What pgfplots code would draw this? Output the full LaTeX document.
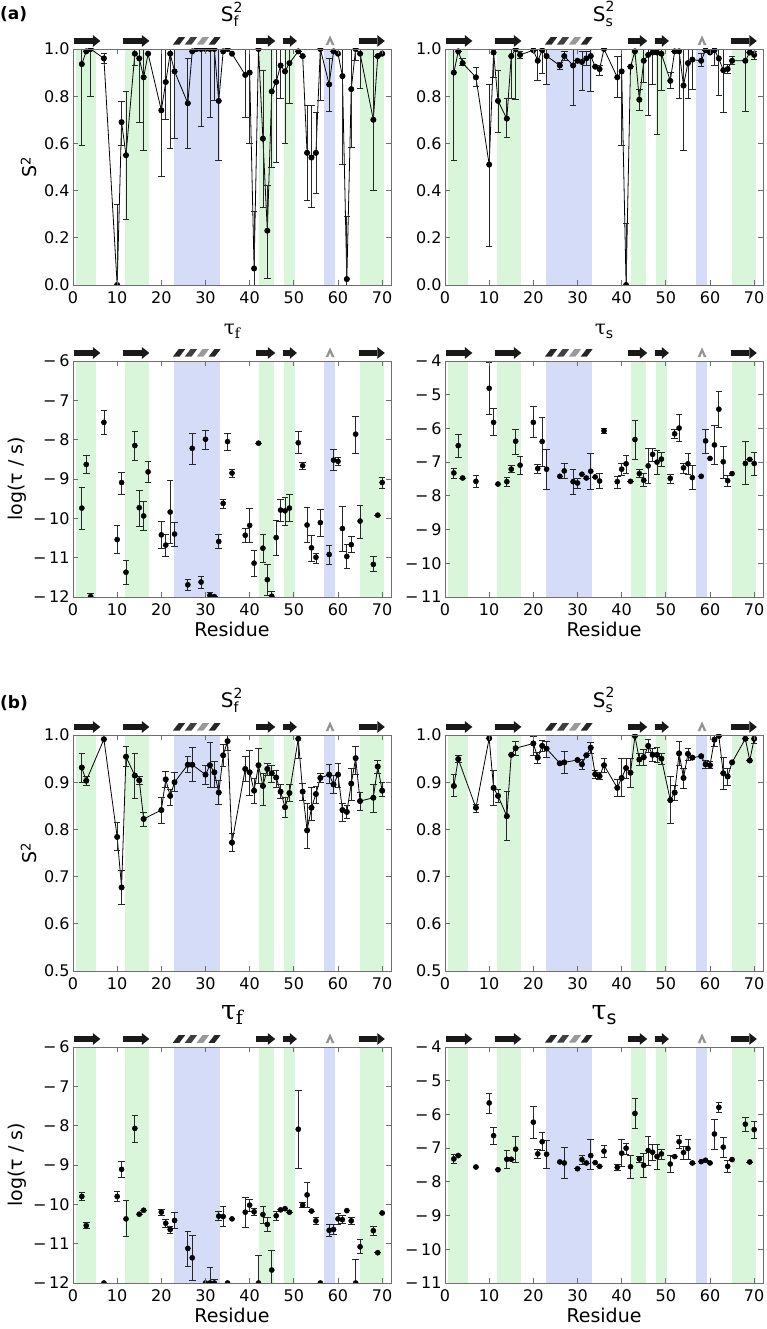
\documentclass[border=0pt]{standalone}
\usepackage{pgfplots}
\pgfplotsset{compat=1.18}
\usepackage{pgfplotstable}
\usepackage{fontspec}
\usepackage{amsmath}
\setmainfont{DejaVu Sans}
\newfontfamily\seriffont{DejaVu Serif}
\definecolor{bandG}{RGB}{218,246,218}
\definecolor{bandB}{RGB}{213,220,248}
\definecolor{frameC}{RGB}{110,110,110}

% ---------------- data: x = residue, y = value, lo/hi = error-bar ends
\pgfplotstableread{
x y lo hi
2 0.936 0.59 1.0
3 0.99 0.99 0.99
4 1.0 0.80 1.0
7 0.96 0.94 0.98
10 0.0 0.0 0.34
11 0.69 0.59 0.78
12 0.55 0.28 0.82
14 0.98 0.93 1.0
15 0.96 0.69 1.0
16 0.88 0.57 1.0
17 0.98 0.98 0.98
20 0.74 0.46 1.0
21 0.86 0.70 1.0
22 0.98 0.58 1.0
23 0.905 0.62 1.0
26 0.77 0.58 0.96
27 0.99 0.99 0.99
28 1.0 1.0 1.0
29 1.0 0.67 1.0
30 1.0 1.0 1.0
31 1.0 0.71 1.0
32 1.0 0.78 1.0
33 0.78 0.53 1.0
34 0.99 0.99 0.99
35 1.0 1.0 1.0
36 0.98 0.98 0.98
39 0.89 0.71 1.0
40 0.90 0.60 1.0
41 0.07 0.0 0.31
42 1.0 1.0 1.0
43 0.62 0.33 0.91
44 0.23 0.03 0.42
45 0.82 0.50 1.0
46 0.86 0.52 1.0
47 0.93 0.79 1.0
48 0.905 0.60 1.0
49 0.94 0.77 1.0
51 0.99 0.99 0.99
52 0.97 0.97 0.97
53 0.56 0.36 0.76
54 0.54 0.33 0.76
55 0.56 0.39 0.73
56 1.0 0.78 1.0
58 0.85 0.735 0.96
59 0.99 0.99 0.99
60 0.98 0.98 0.98
61 0.885 0.51 1.0
62 0.025 0.0 0.29
63 0.83 0.585 1.0
64 1.0 0.95 1.0
65 0.98 0.835 1.0
68 0.70 0.40 1.0
69 0.97 0.97 0.97
70 0.98 0.98 0.98
}\tAfS

\pgfplotstableread{
x y lo hi
2 0.90 0.53 1.0
3 0.99 0.99 0.99
4 0.94 0.93 0.96
7 0.88 0.84 0.92
10 0.51 0.165 0.85
11 0.985 0.88 1.0
12 0.78 0.645 0.91
14 0.705 0.625 0.79
15 0.97 0.79 1.0
16 1.0 0.785 1.0
17 0.975 0.96 0.99
20 0.995 0.995 0.995
21 0.95 0.865 1.0
22 0.995 0.895 1.0
23 0.97 0.85 1.0
26 0.93 0.915 0.945
27 0.97 0.95 0.99
29 0.93 0.76 1.0
30 0.95 0.95 0.95
31 0.945 0.825 0.99
32 0.96 0.93 0.99
33 0.97 0.82 1.0
34 0.925 0.925 0.925
35 0.915 0.89 0.93
36 1.0 1.0 1.0
39 0.88 0.795 0.97
40 0.905 0.59 1.0
41 0.0 0.0 0.26
42 0.925 0.925 0.925
43 0.99 0.99 0.99
44 0.785 0.74 0.83
45 0.95 0.86 1.0
46 0.975 0.72 1.0
47 0.985 0.85 1.0
48 0.985 0.64 1.0
49 0.98 0.825 1.0
51 0.865 0.835 0.90
52 0.99 0.99 0.99
53 0.99 0.79 1.0
54 0.845 0.57 1.0
55 0.94 0.79 1.0
56 0.955 0.83 1.0
58 0.95 0.925 0.98
59 0.995 0.995 0.995
60 0.985 0.985 0.985
61 0.995 0.93 1.0
62 0.96 0.805 1.0
63 0.91 0.73 1.0
64 0.915 0.895 0.935
65 0.95 0.935 0.97
68 0.95 0.735 1.0
69 0.985 0.985 0.985
70 0.975 0.955 0.99
}\tAsS

\pgfplotstableread{
x y lo hi
2 -9.74 -10.27 -9.22
3 -8.63 -8.87 -8.40
4 -11.99 -12.0 -11.92
7 -7.56 -7.86 -7.26
10 -10.54 -10.89 -10.19
11 -9.09 -9.38 -8.83
12 -11.37 -11.68 -11.08
14 -8.15 -8.54 -7.80
15 -9.73 -10.21 -9.28
16 -9.94 -10.31 -9.57
17 -8.82 -9.09 -8.56
20 -10.42 -10.77 -10.08
21 -10.68 -10.98 -10.40
22 -9.84 -10.64 -9.04
23 -10.40 -10.71 -10.11
26 -11.69 -11.82 -11.56
27 -8.22 -8.62 -7.83
29 -11.62 -11.78 -11.47
30 -7.99 -8.24 -7.77
31 -11.96 -12.0 -11.88
32 -11.99 -12.0 -11.99
33 -10.59 -10.77 -10.41
34 -9.62 -9.76 -9.51
35 -8.05 -8.27 -7.83
36 -8.85 -8.96 -8.75
39 -10.43 -10.61 -10.26
40 -10.18 -10.61 -9.75
41 -11.14 -11.47 -10.81
42 -8.09 -8.09 -8.09
43 -10.76 -11.12 -10.40
44 -11.56 -11.96 -11.17
45 -11.98 -12.0 -11.87
46 -10.49 -10.95 -10.06
47 -9.79 -10.08 -9.52
48 -9.81 -10.19 -9.46
49 -9.74 -10.09 -9.39
51 -8.08 -8.36 -7.78
52 -8.66 -8.76 -8.59
53 -10.17 -10.61 -9.73
54 -10.75 -11.09 -10.43
55 -10.99 -11.14 -10.88
56 -10.11 -10.46 -9.77
58 -10.92 -11.17 -10.68
59 -8.52 -8.79 -8.25
60 -8.55 -8.65 -8.44
61 -10.26 -10.83 -9.70
62 -10.97 -11.28 -10.67
63 -10.67 -10.87 -10.47
64 -7.86 -8.34 -7.40
65 -10.07 -10.50 -9.67
68 -11.17 -11.34 -10.98
69 -9.92 -9.92 -9.92
70 -9.09 -9.23 -8.95
}\tAfT

\pgfplotstableread{
x y lo hi
2 -7.32 -7.47 -7.19
3 -6.51 -6.85 -6.17
4 -7.47 -7.47 -7.47
7 -7.57 -7.74 -7.40
10 -4.81 -5.57 -4.05
11 -5.82 -6.20 -5.42
12 -7.65 -7.65 -7.65
14 -7.58 -7.73 -7.45
15 -7.21 -7.30 -7.09
16 -6.38 -6.76 -6.02
17 -7.09 -7.36 -6.83
20 -5.82 -6.28 -5.36
21 -7.19 -7.32 -7.06
22 -6.39 -7.13 -5.67
23 -7.21 -7.80 -6.62
26 -7.42 -7.42 -7.42
27 -7.26 -7.49 -7.05
29 -7.58 -7.97 -7.22
30 -7.62 -7.77 -7.48
31 -7.36 -7.36 -7.36
32 -7.47 -7.47 -7.47
33 -7.27 -7.80 -6.74
34 -7.44 -7.44 -7.44
35 -7.56 -7.78 -7.34
36 -6.07 -6.14 -5.99
39 -7.58 -7.77 -7.42
40 -7.21 -7.38 -7.03
41 -7.05 -7.33 -6.81
42 -7.57 -7.57 -7.57
43 -6.33 -6.91 -5.76
44 -7.34 -7.45 -7.23
45 -7.54 -7.73 -7.34
46 -7.11 -7.64 -6.59
47 -6.77 -6.99 -6.58
48 -7.00 -7.35 -6.65
49 -6.91 -7.13 -6.71
51 -7.48 -7.63 -7.35
52 -6.16 -6.31 -6.04
53 -5.99 -6.39 -5.59
54 -7.17 -7.34 -7.03
55 -7.05 -7.36 -6.73
56 -7.46 -7.82 -7.09
58 -7.42 -7.42 -7.42
59 -6.37 -6.75 -6.02
60 -6.89 -6.89 -6.89
61 -6.49 -7.08 -5.92
62 -5.43 -5.97 -4.90
63 -6.99 -7.47 -6.53
64 -7.55 -7.73 -7.38
65 -7.34 -7.34 -7.34
68 -7.04 -7.67 -6.40
69 -6.92 -6.92 -6.92
70 -7.04 -7.40 -6.70
}\tAsT

\pgfplotstableread{
x y lo hi
2 0.931 0.90 0.96
3 0.903 0.894 0.912
7 0.991 0.991 0.991
10 0.784 0.755 0.815
11 0.677 0.641 0.714
12 0.954 0.933 0.975
14 0.914 0.866 0.96
15 0.904 0.895 0.913
16 0.822 0.806 0.837
20 0.841 0.813 0.867
21 0.906 0.89 0.922
22 0.871 0.85 0.885
23 0.90 0.88 0.92
26 0.937 0.92 0.955
27 0.937 0.901 0.974
30 0.916 0.895 0.936
31 0.936 0.888 0.984
32 0.921 0.89 0.944
33 0.878 0.854 0.903
34 0.957 0.933 0.981
35 0.987 0.968 1.0
36 0.772 0.754 0.791
39 0.928 0.902 0.955
40 0.921 0.873 0.968
41 0.882 0.855 0.908
42 0.936 0.897 0.972
43 0.892 0.85 0.918
44 0.928 0.915 0.94
45 0.919 0.90 0.936
46 0.910 0.89 0.926
47 0.88 0.866 0.896
48 0.847 0.825 0.868
49 0.877 0.86 0.895
51 0.992 0.95 1.0
52 0.88 0.862 0.898
53 0.798 0.76 0.855
54 0.846 0.82 0.89
55 0.875 0.855 0.892
56 0.909 0.9 0.918
58 0.916 0.898 0.937
59 0.895 0.876 0.915
60 0.916 0.89 0.939
61 0.841 0.816 0.856
62 0.837 0.823 0.851
63 0.897 0.862 0.929
64 0.951 0.917 0.975
65 0.86 0.84 0.879
68 0.867 0.837 0.896
69 0.933 0.919 0.946
70 0.882 0.87 0.900
}\tBfS

\pgfplotstableread{
x y lo hi
2 0.892 0.869 0.917
3 0.949 0.941 0.957
7 0.846 0.837 0.854
10 0.993 0.993 0.993
11 0.888 0.85 0.926
12 0.871 0.857 0.884
14 0.828 0.777 0.88
15 0.958 0.958 0.958
16 0.972 0.957 0.987
20 0.982 0.957 0.998
21 0.952 0.94 0.963
22 0.977 0.965 0.988
23 0.971 0.953 0.987
26 0.94 0.94 0.94
27 0.942 0.919 0.965
30 0.947 0.947 0.947
31 0.938 0.927 0.948
32 0.957 0.957 0.957
33 0.973 0.96 0.985
34 0.917 0.908 0.926
35 0.913 0.906 0.92
36 0.936 0.92 0.951
39 0.888 0.869 0.905
40 0.909 0.869 0.95
41 0.93 0.908 0.95
42 0.92 0.889 0.95
43 0.998 0.998 0.998
44 0.948 0.936 0.96
45 0.953 0.935 0.97
46 0.977 0.963 0.99
47 0.958 0.944 0.972
48 0.958 0.941 0.974
49 0.95 0.938 0.962
51 0.862 0.813 0.912
52 0.878 0.862 0.894
53 0.961 0.936 0.986
54 0.909 0.886 0.93
55 0.96 0.946 0.972
56 0.952 0.952 0.952
58 0.955 0.955 0.955
59 0.938 0.93 0.946
60 0.936 0.929 0.944
61 0.99 0.975 1.0
62 0.998 0.998 0.998
63 0.919 0.884 0.952
64 0.912 0.894 0.929
65 0.942 0.942 0.942
68 0.992 0.992 0.992
69 0.946 0.946 0.946
70 0.992 0.983 1.0
}\tBsS

\pgfplotstableread{
x y lo hi
2 -9.80 -9.90 -9.70
3 -10.54 -10.62 -10.45
7 -12.0 -12.0 -12.0
10 -9.80 -9.93 -9.68
11 -9.11 -9.31 -8.91
12 -10.37 -10.81 -9.91
14 -8.07 -8.42 -7.74
15 -10.25 -10.25 -10.25
16 -10.15 -10.15 -10.15
20 -10.20 -10.27 -10.13
21 -10.48 -10.59 -10.38
22 -10.64 -10.74 -10.55
23 -10.41 -10.61 -10.20
26 -11.12 -11.57 -10.68
27 -11.36 -11.93 -10.78
30 -12.0 -12.0 -12.0
31 -12.0 -12.0 -11.61
32 -12.0 -12.0 -11.9
33 -10.30 -10.42 -10.19
34 -10.31 -10.57 -10.06
35 -12.0 -12.0 -12.0
36 -10.37 -10.37 -10.37
39 -10.20 -10.59 -9.82
40 -10.02 -10.19 -9.87
41 -10.19 -10.27 -10.10
42 -12.0 -12.0 -11.31
43 -10.26 -10.49 -10.05
44 -10.51 -10.70 -10.34
45 -11.67 -12.0 -11.18
46 -10.29 -10.41 -10.17
47 -10.14 -10.14 -10.14
48 -10.11 -10.11 -10.11
49 -10.20 -10.20 -10.20
51 -8.09 -9.08 -7.11
52 -10.02 -10.09 -9.95
53 -9.76 -10.09 -9.45
54 -10.17 -10.17 -10.17
55 -10.42 -10.50 -10.34
56 -12.0 -12.0 -12.0
58 -10.66 -10.81 -10.52
59 -10.64 -10.76 -10.52
60 -10.37 -10.50 -10.23
61 -10.39 -10.48 -10.29
62 -10.16 -10.16 -10.16
63 -10.42 -10.50 -10.33
64 -12.0 -12.0 -11.40
65 -11.08 -11.26 -10.89
68 -10.67 -10.78 -10.56
69 -11.23 -11.23 -11.23
70 -10.22 -10.22 -10.22
}\tBfT

\pgfplotstableread{
x y lo hi
2 -7.32 -7.46 -7.20
3 -7.22 -7.22 -7.22
7 -7.56 -7.56 -7.56
10 -5.66 -5.96 -5.38
11 -6.63 -6.90 -6.37
12 -7.64 -7.64 -7.64
14 -7.33 -7.61 -7.07
15 -7.33 -7.33 -7.33
16 -7.03 -7.43 -6.65
20 -6.23 -6.70 -5.76
21 -7.17 -7.29 -7.05
22 -6.81 -7.07 -6.53
23 -7.18 -7.61 -6.77
26 -7.41 -7.41 -7.41
27 -7.44 -7.91 -6.98
30 -7.61 -7.61 -7.61
31 -7.34 -7.48 -7.22
32 -7.44 -7.44 -7.44
33 -7.22 -7.64 -6.75
34 -7.43 -7.43 -7.43
35 -7.54 -7.54 -7.54
36 -7.09 -7.27 -6.92
39 -7.57 -7.67 -7.47
40 -7.15 -7.55 -6.75
41 -7.00 -7.20 -6.85
42 -7.55 -7.91 -7.23
43 -5.97 -6.42 -5.53
44 -7.32 -7.43 -7.24
45 -7.51 -7.86 -7.15
46 -7.07 -7.50 -6.65
47 -7.12 -7.35 -6.90
48 -7.25 -7.63 -6.90
49 -7.17 -7.32 -7.05
51 -7.47 -7.73 -7.22
52 -7.25 -7.25 -7.25
53 -6.81 -7.00 -6.63
54 -7.13 -7.32 -6.95
55 -7.01 -7.32 -6.75
56 -7.44 -7.44 -7.44
58 -7.40 -7.40 -7.40
59 -7.36 -7.36 -7.36
60 -7.44 -7.44 -7.44
61 -6.58 -7.05 -6.15
62 -5.79 -5.94 -5.64
63 -6.97 -7.26 -6.69
64 -7.54 -7.73 -7.36
65 -7.34 -7.34 -7.34
68 -6.29 -6.51 -6.08
69 -7.41 -7.41 -7.41
70 -6.45 -6.70 -6.20
}\tBsT

% ---------------- decorations (secondary structure)
\newcommand{\bands}{%
  \fill[bandG] ({axis cs:0.7,0}|-{rel axis cs:0,0}) rectangle ({axis cs:5.2,0}|-{rel axis cs:0,1});
  \fill[bandG] ({axis cs:11.7,0}|-{rel axis cs:0,0}) rectangle ({axis cs:17.2,0}|-{rel axis cs:0,1});
  \fill[bandB] ({axis cs:22.8,0}|-{rel axis cs:0,0}) rectangle ({axis cs:33.3,0}|-{rel axis cs:0,1});
  \fill[bandG] ({axis cs:42.0,0}|-{rel axis cs:0,0}) rectangle ({axis cs:45.4,0}|-{rel axis cs:0,1});
  \fill[bandG] ({axis cs:47.8,0}|-{rel axis cs:0,0}) rectangle ({axis cs:50.3,0}|-{rel axis cs:0,1});
  \fill[bandB] ({axis cs:56.9,0}|-{rel axis cs:0,0}) rectangle ({axis cs:59.4,0}|-{rel axis cs:0,1});
  \fill[bandG] ({axis cs:64.9,0}|-{rel axis cs:0,0}) rectangle ({axis cs:70.4,0}|-{rel axis cs:0,1});
}
\newcommand{\sarrow}[3]{%
  \fill[black!90] ({axis cs:#1,0}|-{rel axis cs:0,1.020}) rectangle ({axis cs:#2,0}|-{rel axis cs:0,1.048});
  \fill[black!90] ({axis cs:#2,0}|-{rel axis cs:0,1.009}) -- ({axis cs:#3,0}|-{rel axis cs:0,1.034}) -- ({axis cs:#2,0}|-{rel axis cs:0,1.059}) -- cycle;
}
\newcommand{\hseg}[5]{%
  \fill[#5] ({axis cs:#1,0}|-{rel axis cs:0,1.018}) -- ({axis cs:#2,0}|-{rel axis cs:0,1.050}) -- ({axis cs:#3,0}|-{rel axis cs:0,1.050}) -- ({axis cs:#4,0}|-{rel axis cs:0,1.018}) -- cycle;
}
\newcommand{\sse}{%
  \sarrow{0.3}{4.5}{6.2}%
  \sarrow{11.4}{15.6}{17.3}%
  \hseg{22.6}{23.9}{25.4}{24.1}{black!85}%
  \hseg{25.3}{26.6}{28.1}{26.8}{black!75}%
  \hseg{28.0}{29.3}{30.8}{29.5}{gray!80}%
  \hseg{30.7}{32.0}{33.4}{32.1}{black!85}%
  \sarrow{41.4}{44.1}{45.8}%
  \sarrow{47.5}{49.1}{50.7}%
  \fill[gray!85] ({axis cs:57.2,0}|-{rel axis cs:0,1.016}) -- ({axis cs:58.2,0}|-{rel axis cs:0,1.058}) -- ({axis cs:59.2,0}|-{rel axis cs:0,1.016}) -- ({axis cs:58.6,0}|-{rel axis cs:0,1.016}) -- ({axis cs:58.2,0}|-{rel axis cs:0,1.036}) -- ({axis cs:57.8,0}|-{rel axis cs:0,1.016}) -- cycle;
  \sarrow{64.7}{68.9}{70.6}%
}

\pgfplotsset{
  panel/.style={scale only axis, width=318pt, height=236pt,
    xmin=0, xmax=72, xtick={0,10,20,30,40,50,60,70},
    axis on top, clip mode=individual, clip marker paths=true,
    axis line style={frameC, line width=0.9pt},
    tick style={frameC, line width=0.9pt}, major tick length=5pt,
    /pgf/number format/assume math mode=true,
    tick label style={font=\fontsize{16}{18}\selectfont},
    xticklabel style={yshift=-3pt},
    label style={font=\fontsize{19}{22}\selectfont},
    title style={font=\fontsize{20}{24}\selectfont, yshift=13pt}},
  s2a/.style={ymin=0, ymax=1, ytick={0,0.2,0.4,0.6,0.8,1},
    yticklabel style={/pgf/number format/.cd, fixed, fixed zerofill, precision=1}},
  s2b/.style={ymin=0.5, ymax=1, ytick={0.5,0.6,0.7,0.8,0.9,1},
    yticklabel style={/pgf/number format/.cd, fixed, fixed zerofill, precision=1}},
  tf/.style={ymin=-12, ymax=-6, ytick={-12,-11,-10,-9,-8,-7,-6},
    yticklabels={−\,12,−\,11,−\,10,−\,9,−\,8,−\,7,−\,6}},
  ts/.style={ymin=-11, ymax=-4, ytick={-11,-10,-9,-8,-7,-6,-5,-4},
    yticklabels={−\,11,−\,10,−\,9,−\,8,−\,7,−\,6,−\,5,−\,4}},
  lineplot/.style={black, line width=0.8pt, mark=*, mark size=2.6pt,
    error bars/.cd, y dir=both, y explicit,
    error bar style={black!85, line width=0.8pt},
    error mark options={rotate=90, black!85, mark size=3.3pt, line width=0.8pt}},
  dotplot/.style={black, only marks, mark=*, mark size=2.6pt,
    error bars/.cd, y dir=both, y explicit,
    error bar style={black!85, line width=0.8pt},
    error mark options={rotate=90, black!85, mark size=3.3pt, line width=0.8pt}},
}

\begin{document}
\begin{tikzpicture}
\useasboundingbox (0pt,0pt) rectangle (767pt,1329pt);
\node[anchor=west, inner sep=0pt, font=\bfseries\fontsize{17}{20}\selectfont] at (0pt,1315pt) {(a)};
\node[anchor=west, inner sep=0pt, font=\bfseries\fontsize{17}{20}\selectfont] at (0pt,626pt) {(b)};

% (a) S_f^2
\begin{axis}[panel, s2a, at={(73pt,1044pt)}, anchor=south west,
  ylabel={S\textsuperscript{2}}, title={$\text{S}_{\text{f}}^{\text{2}}$}]
\bands
\addplot[lineplot] table[x=x, y=y, y error plus expr={\thisrow{hi}-\thisrow{y}}, y error minus expr={\thisrow{y}-\thisrow{lo}}] {\tAfS};
\sse
\end{axis}

% (a) S_s^2
\begin{axis}[panel, s2a, at={(445pt,1044pt)}, anchor=south west,
  title={$\text{S}_{\text{s}}^{\text{2}}$}]
\bands
\addplot[lineplot] table[x=x, y=y, y error plus expr={\thisrow{hi}-\thisrow{y}}, y error minus expr={\thisrow{y}-\thisrow{lo}}] {\tAsS};
\sse
\end{axis}

% (a) tau_f
\begin{axis}[panel, tf, at={(73pt,732pt)}, anchor=south west,
  ylabel={log(τ / s)}, xlabel={Residue},
  title={{\seriffont τ\raisebox{-0.35ex}{\fontsize{14}{16}\selectfont f}}}]
\bands
\addplot[dotplot] table[x=x, y=y, y error plus expr={\thisrow{hi}-\thisrow{y}}, y error minus expr={\thisrow{y}-\thisrow{lo}}] {\tAfT};
\sse
\end{axis}

% (a) tau_s
\begin{axis}[panel, ts, at={(445pt,732pt)}, anchor=south west,
  xlabel={Residue},
  title={{\seriffont τ}\raisebox{-0.35ex}{\fontsize{14}{16}\selectfont s}}]
\bands
\addplot[dotplot] table[x=x, y=y, y error plus expr={\thisrow{hi}-\thisrow{y}}, y error minus expr={\thisrow{y}-\thisrow{lo}}] {\tAsT};
\sse
\end{axis}

% (b) S_f^2
\begin{axis}[panel, s2b, at={(73pt,358pt)}, anchor=south west,
  ylabel={S\textsuperscript{2}}, title={$\text{S}_{\text{f}}^{\text{2}}$}]
\bands
\addplot[lineplot] table[x=x, y=y, y error plus expr={\thisrow{hi}-\thisrow{y}}, y error minus expr={\thisrow{y}-\thisrow{lo}}] {\tBfS};
\sse
\end{axis}

% (b) S_s^2
\begin{axis}[panel, s2b, at={(445pt,358pt)}, anchor=south west,
  title={$\text{S}_{\text{s}}^{\text{2}}$}]
\bands
\addplot[lineplot] table[x=x, y=y, y error plus expr={\thisrow{hi}-\thisrow{y}}, y error minus expr={\thisrow{y}-\thisrow{lo}}] {\tBsS};
\sse
\end{axis}

% (b) tau_f
\begin{axis}[panel, tf, at={(73pt,46pt)}, anchor=south west,
  ylabel={log(τ / s)}, xlabel={Residue},
  title style={font=\fontsize{27}{30}\selectfont},
  title={{\seriffont τ\raisebox{-0.35ex}{\fontsize{19}{21}\selectfont f}}}]
\bands
\addplot[dotplot] table[x=x, y=y, y error plus expr={\thisrow{hi}-\thisrow{y}}, y error minus expr={\thisrow{y}-\thisrow{lo}}] {\tBfT};
\sse
\end{axis}

% (b) tau_s
\begin{axis}[panel, ts, at={(445pt,46pt)}, anchor=south west,
  xlabel={Residue},
  title style={font=\fontsize{27}{30}\selectfont},
  title={{\seriffont τ}\raisebox{-0.35ex}{\fontsize{19}{21}\selectfont s}}]
\bands
\addplot[dotplot] table[x=x, y=y, y error plus expr={\thisrow{hi}-\thisrow{y}}, y error minus expr={\thisrow{y}-\thisrow{lo}}] {\tBsT};
\sse
\end{axis}
\end{tikzpicture}
\end{document}
